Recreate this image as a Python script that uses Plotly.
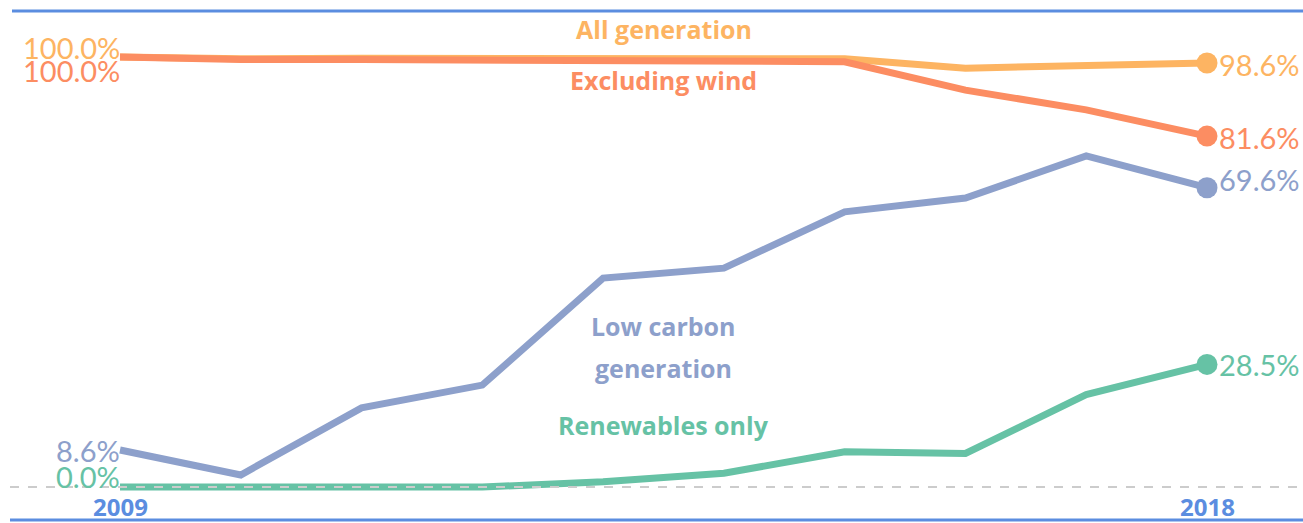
import plotly.graph_objects as go

years = [2009, 2010, 2011, 2012, 2013, 2014, 2015, 2016, 2017, 2018]
all_generation = [100.0, 99.6, 99.7, 99.7, 99.7, 99.6, 99.6, 97.4, 98.1, 98.6]
excluding_wind = [100.0, 99.4, 99.4, 99.2, 99.1, 98.9, 98.9, 92.3, 87.7, 81.6]
low_carbon = [8.6, 2.8, 18.4, 23.7, 48.6, 50.9, 64.0, 67.2, 77.0, 69.6]
renewables = [0.0, 0.0, 0.0, 0.0, 1.2, 3.2, 8.2, 7.8, 21.5, 28.5]

series_names = ["All generation", "Excluding wind", "Low carbon generation", "Renewables only"]
series_values = [all_generation, excluding_wind, low_carbon, renewables]
colors = ["#fdb462", "#fc8d62", "#8da0cb", "#66c2a5"]
blue = "#5b8de0"
FONT = "Lato"
BOLD_FONT = "Open Sans"

W, H = 1303, 523
x0_px, x1_px = 120, 1207
y0_px, y100_px = 487, 57
ppy = (x1_px - x0_px) / (years[-1] - years[0])
ppv = (y0_px - y100_px) / 100.0
xrange = [years[0] - x0_px / ppy, years[-1] + (W - x1_px) / ppy]
yrange = [0 - (H - y0_px) / ppv, 100 + y100_px / ppv]


def py(px):
    return (y0_px - px) / ppv


fig = go.Figure()
for name, vals, c in zip(series_names, series_values, colors):
    fig.add_trace(go.Scatter(x=years, y=vals, mode="lines", line=dict(color=c, width=7),
                             name=name, showlegend=False, hoverinfo="skip"))
    fig.add_trace(go.Scatter(x=[years[-1]], y=[vals[-1]], mode="markers",
                             marker=dict(color=c, size=21), showlegend=False, hoverinfo="skip"))

annotations = []
# series name labels (pixel rows of their centres)
name_lines = [
    ("All generation", colors[0], 29),
    ("Excluding wind", colors[1], 80),
    ("Low carbon", colors[2], 326),
    ("generation", colors[2], 368),
    ("Renewables only", colors[3], 425),
]
mid_year = (years[0] + years[-1]) / 2
for text, c, ypx in name_lines:
    annotations.append(dict(x=mid_year, y=py(ypx), xref="x", yref="y", text=f"<b>{text}</b>",
                            showarrow=False, font=dict(family=BOLD_FONT, size=25, color=c),
                            xanchor="center", yanchor="middle"))

# left start labels
left_shift = [10, -13, 0, 11]
for vals, c, ys in zip(series_values, colors, left_shift):
    annotations.append(dict(x=years[0], y=vals[0], xref="x", yref="y", text=f"{vals[0]:.1f}%",
                            showarrow=False, font=dict(family=FONT, size=29, color=c),
                            xanchor="right", yanchor="middle", xshift=2, yshift=ys))
# right end labels
right_shift = [-1, -1, 8, 0]
for vals, c, ys in zip(series_values, colors, right_shift):
    annotations.append(dict(x=years[-1], y=vals[-1], xref="x", yref="y", text=f"{vals[-1]:.1f}%",
                            showarrow=False, font=dict(family=FONT, size=29, color=c),
                            xanchor="left", yanchor="middle", xshift=10, yshift=ys))
# year labels
for yr in [years[0], years[-1]]:
    annotations.append(dict(x=yr, y=0, xref="x", yref="y", text=f"<b>{yr}</b>",
                            showarrow=False, font=dict(family=BOLD_FONT, size=24, color=blue),
                            xanchor="center", yanchor="middle", yshift=-19))

shapes = [
    dict(type="line", xref="paper", yref="y", x0=10 / W, x1=1, y0=0, y1=0,
         line=dict(color="#cccccc", width=2, dash="dash"), layer="above"),
    dict(type="line", xref="paper", yref="paper", x0=12 / W, x1=1, y0=1 - 11 / H, y1=1 - 11 / H,
         line=dict(color=blue, width=3)),
    dict(type="line", xref="paper", yref="paper", x0=10 / W, x1=1, y0=1 - 520 / H, y1=1 - 520 / H,
         line=dict(color=blue, width=3)),
]

fig.update_layout(
    width=W, height=H, margin=dict(l=0, r=0, t=0, b=0),
    paper_bgcolor="white", plot_bgcolor="white",
    xaxis=dict(range=xrange, visible=False, fixedrange=True),
    yaxis=dict(range=yrange, visible=False, fixedrange=True),
    annotations=annotations, shapes=shapes, showlegend=False,
)

fig.write_html("out.html", config={"displayModeBar": False},
               post_script="document.body.style.margin='0';document.body.style.overflow='hidden';")
